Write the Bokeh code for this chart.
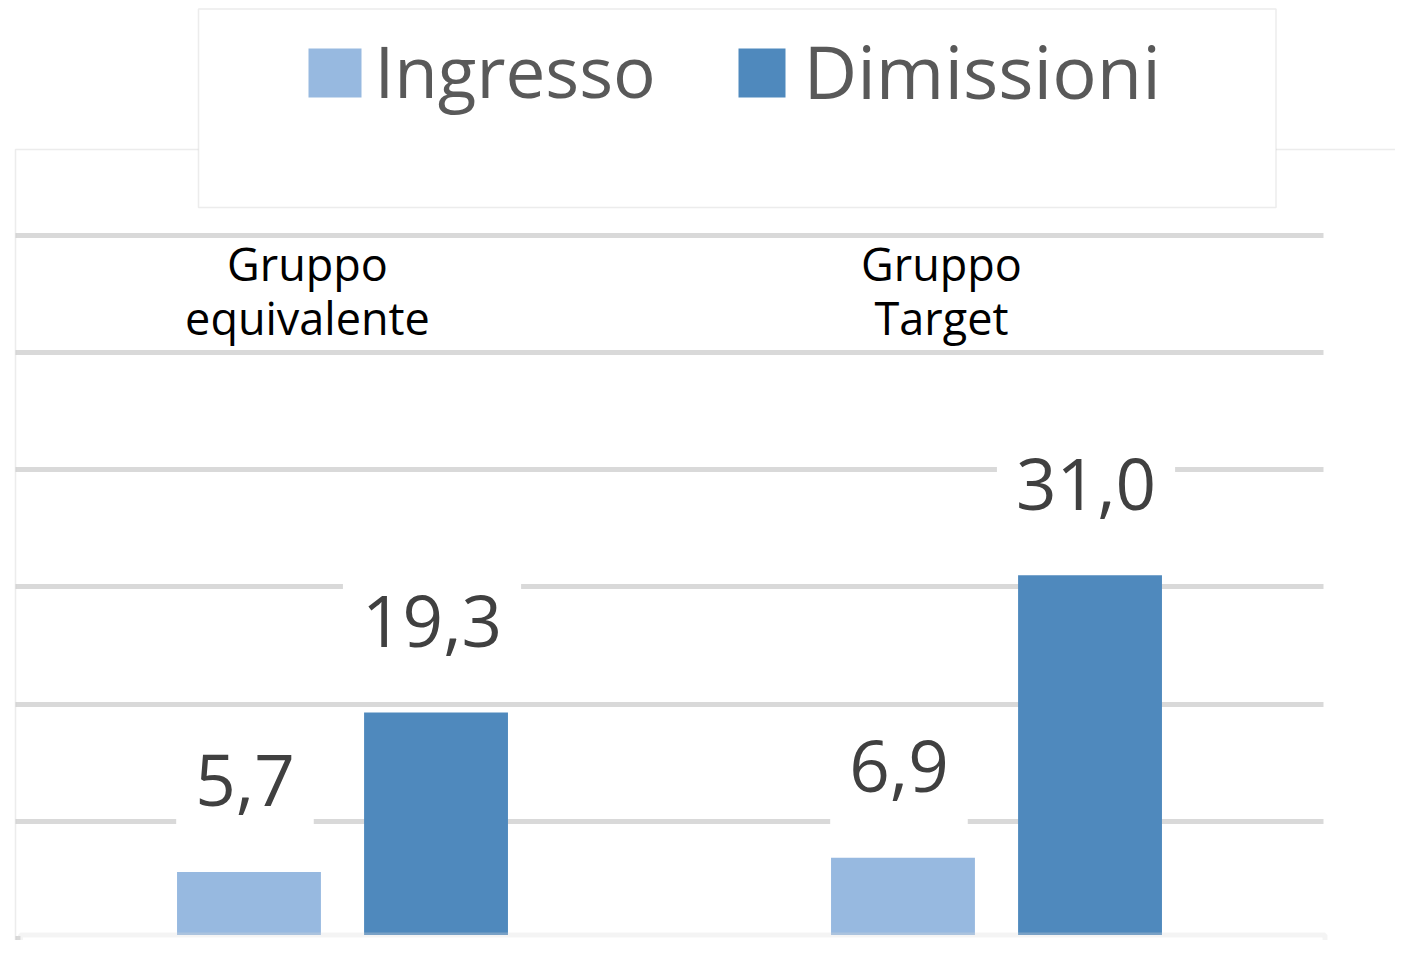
from bokeh.plotting import figure
from bokeh.models import Range1d, Grid, FixedTicker, BoxAnnotation, Label, ColumnDataSource
from bokeh.core.properties import value
from bokeh.embed import file_html
from bokeh.resources import INLINE

# ---- data ----
categories = ["Gruppo equivalente", "Gruppo Target"]
series_names = ["Ingresso", "Dimissioni"]
ingresso = [5.7, 6.9]
dimissioni = [19.3, 31.0]
y_ticks = [0, 10, 20, 30, 40, 50, 60]
series_colors = ["#97B9E0", "#4F89BD"]

# ---- layout constants (picture pixels) ----
W, H = 1395, 940
ZERO_PX = 938.3
PX_PER_UNIT = 11.73
X0_PX = 15
PX_PER_CAT = 654


def px_x(px):
    return (px - X0_PX) / PX_PER_CAT


def px_y(py):
    return (ZERO_PX - py) / PX_PER_UNIT


p = figure(width=W, height=H, output_backend="svg", toolbar_location=None,
           x_range=Range1d(px_x(0), px_x(W)),
           y_range=Range1d(px_y(H), px_y(0)),
           x_axis_location=None, y_axis_location=None, min_border=0,
           outline_line_color=None, background_fill_color="white",
           border_fill_color="white")
p.grid.visible = False

grid = Grid(dimension=1, ticker=FixedTicker(ticks=y_ticks),
            cross_bounds=(0, len(categories)),
            grid_line_color="#D9D9D9", grid_line_width=5)
p.add_layout(grid, "center")

# outer chart frame (thin line)
p.add_layout(BoxAnnotation(left=px_x(15), right=px_x(1600), top=px_y(149), bottom=px_y(1100),
                           fill_color=None, line_color="#BFBFBF", line_width=1.5, level="underlay"))

# bars + data labels
offsets = [-0.143, 0.143]
bar_width = 0.22
for s, vals in enumerate([ingresso, dimissioni]):
    xs = [i + 0.5 + offsets[s] for i in range(len(categories))]
    p.vbar(x=xs, top=vals, bottom=0, width=bar_width,
           fill_color=series_colors[s], line_color=None)
    for x, v in zip(xs, vals):
        p.add_layout(Label(x=x, y=v, text=f"{v:.1f}".replace(".", ","),
                           x_offset=-4, y_offset=81, text_align="center",
                           text_baseline="alphabetic", text_font="Open Sans",
                           text_font_size="71px", text_color="#404040",
                           background_fill_color="white",
                           padding=dict(left=19, right=19, top=19, bottom=40)))

# category labels at the top
cat_src = ColumnDataSource(dict(
    x=[i + 0.5 for i in range(len(categories))],
    y=[px_y(290)] * len(categories),
    text=[c.replace(" ", "\n") for c in categories],
    dx=[-35, -55],
))
p.text(x="x", y="y", text="text", x_offset="dx", source=cat_src,
       text_align="center", text_baseline="middle", text_font=value("Open Sans"),
       text_font_size="45px", text_color="black", text_line_height=0.9)

# bottom box below the baseline
p.add_layout(BoxAnnotation(left=px_x(20), right=px_x(1324.5), top=px_y(934.5), bottom=px_y(1100),
                           fill_color="white", fill_alpha=1, line_color="#D9D9D9", line_width=5))

# legend box
p.add_layout(BoxAnnotation(left=px_x(198), right=px_x(1275.5), top=px_y(8.5), bottom=px_y(207),
                           fill_color="white", fill_alpha=1, line_color="#BFBFBF", line_width=1.5))
legend_sq = [(308, 361), (738, 785)]
legend_txt_x = [374, 803]
legend_font = ["71px", "74px"]
for s, name in enumerate(series_names):
    l, r = legend_sq[s]
    p.add_layout(BoxAnnotation(left=px_x(l), right=px_x(r), top=px_y(48), bottom=px_y(97),
                               fill_color=series_colors[s], fill_alpha=1, line_color=None))
    p.add_layout(Label(x=px_x(legend_txt_x[s]), y=px_y(70), text=name, text_align="left",
                       text_baseline="alphabetic", text_font="Open Sans",
                       text_font_size=legend_font[s], text_color="#595959"))

open("out.html", "w").write(file_html(p, INLINE))
